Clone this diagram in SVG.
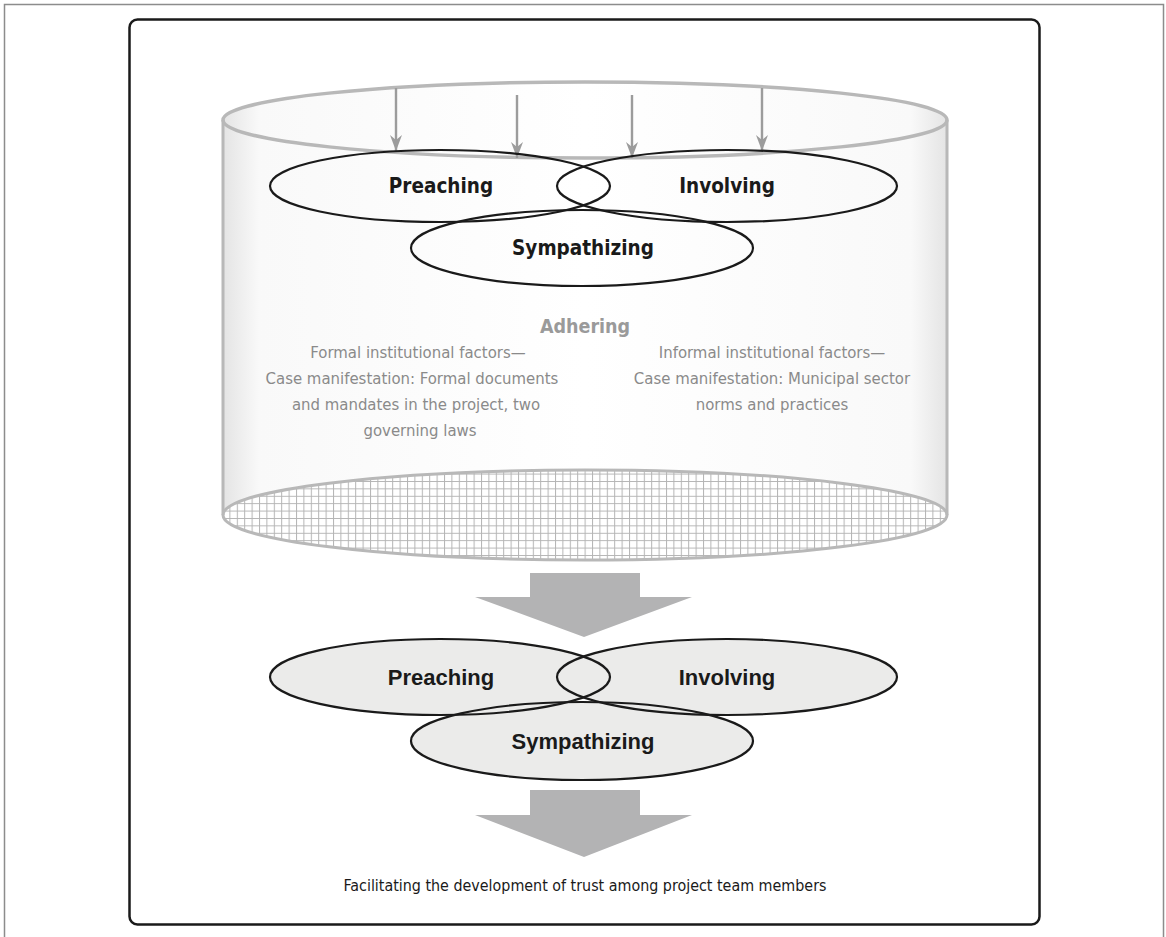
<svg xmlns="http://www.w3.org/2000/svg" width="1166" height="937" viewBox="0 0 1166 937">
  <style>
    .venn { fill: none; stroke: #1a1a1a; stroke-width: 2.2; }
    .vennfill { fill: #ebebea; stroke: none; }
    .lbl-top { font-family: "DejaVu Sans Condensed", "DejaVu Sans", sans-serif; font-stretch: condensed; font-weight: bold; font-size: 20.5px; fill: #1a1a1a; text-anchor: middle; dominant-baseline: central; }
    .lbl-bot { font-family: "Liberation Sans", Arial, sans-serif; font-weight: bold; font-size: 22px; fill: #1a1a1a; text-anchor: middle; dominant-baseline: central; }
    .note { font-family: "DejaVu Sans Condensed", "DejaVu Sans", sans-serif; font-stretch: condensed; font-size: 16.6px; fill: #8a8a8a; text-anchor: middle; }
    .title { font-family: "DejaVu Sans Condensed", "DejaVu Sans", sans-serif; font-stretch: condensed; font-size: 19.5px; fill: #9a9a9a; text-anchor: middle; font-weight: bold; }
    .foot { font-family: "DejaVu Sans Condensed", "DejaVu Sans", sans-serif; font-stretch: condensed; font-size: 15.9px; fill: #1a1a1a; text-anchor: middle; }
    .thin { stroke: #9c9c9c; stroke-width: 2.4; fill: none; }
    .block { fill: #b3b3b4; }
  </style>
  <defs>
    <linearGradient id="bodyShade" x1="0" y1="0" x2="1" y2="0">
      <stop offset="0" stop-color="#e4e4e4"/>
      <stop offset="0.05" stop-color="#f9f9f9"/>
      <stop offset="0.5" stop-color="#ffffff"/>
      <stop offset="0.95" stop-color="#f9f9f9"/>
      <stop offset="1" stop-color="#e4e4e4"/>
    </linearGradient>
    <pattern id="mesh" width="7.4" height="7.4" patternUnits="userSpaceOnUse" x="0" y="0">
      <rect width="7.4" height="7.4" fill="#ffffff"/>
      <path d="M0,0.5 H7.4 M0.5,0 V7.4" stroke="#b4b4b4" stroke-width="1"/>
    </pattern>
    <!-- notched head, drawn along +x so orient="auto" follows the line -->
    <marker id="tip" viewBox="0 0 16 12" refX="16" refY="6" markerWidth="16" markerHeight="12" markerUnits="userSpaceOnUse" orient="auto">
      <path d="M0,0 L16,6 L0,12 L5,6 Z" fill="#9c9c9c"/>
    </marker>
  </defs>

  <!-- page frame -->
  <path d="M4.5,937 V4.5 H1163.5 V937" fill="none" stroke="#8c8c8c" stroke-width="1.5"/>
  <rect x="129.5" y="19.5" width="910" height="905" rx="8" fill="#ffffff" stroke="#1a1a1a" stroke-width="2.5"/>

  <!-- cylinder -->
  <g id="cylinder">
    <path d="M223,120 V515 A362,45 0 0 0 947,515 V120 Z" fill="url(#bodyShade)"/>
    <ellipse cx="585" cy="120" rx="362" ry="38" fill="url(#bodyShade)"/>
    <ellipse cx="585" cy="515" rx="362" ry="45" fill="url(#mesh)" stroke="#b8b8b8" stroke-width="3"/>
    <path d="M223,120 V515 M947,120 V515" stroke="#b8b8b8" stroke-width="3" fill="none"/>
    <ellipse cx="585" cy="120" rx="362" ry="38" fill="none" stroke="#b8b8b8" stroke-width="3.5"/>
  </g>

  <!-- downward pressure arrows -->
  <g id="connectors">
    <line class="thin" x1="396" y1="88" x2="396" y2="151" marker-end="url(#tip)"/>
    <line class="thin" x1="517" y1="95" x2="517" y2="158" marker-end="url(#tip)"/>
    <line class="thin" x1="632" y1="95" x2="632" y2="158" marker-end="url(#tip)"/>
    <line class="thin" x1="762" y1="88" x2="762" y2="151" marker-end="url(#tip)"/>
    <polygon class="block" points="530,573 640,573 640,597 692,597 584,637 475,597 530,597"/>
    <polygon class="block" points="530,790 640,790 640,815 692,815 584,857 475,815 530,815"/>
  </g>

  <!-- upper trio -->
  <g id="top-preaching">
    <ellipse class="venn" cx="440" cy="186" rx="170" ry="36"/>
    <text class="lbl-top" x="441" y="186">Preaching</text>
  </g>
  <g id="top-involving">
    <ellipse class="venn" cx="727" cy="186" rx="170" ry="36"/>
    <text class="lbl-top" x="727" y="186">Involving</text>
  </g>
  <g id="top-sympathizing">
    <ellipse class="venn" cx="582" cy="248" rx="171" ry="38"/>
    <text class="lbl-top" x="583" y="248">Sympathizing</text>
  </g>

  <!-- institutional context -->
  <g id="adhering">
    <text class="title" x="585" y="333">Adhering</text>
    <text class="note" x="418" y="358">Formal institutional factors—</text>
    <text class="note" x="412" y="384">Case manifestation: Formal documents</text>
    <text class="note" x="416" y="410">and mandates in the project, two</text>
    <text class="note" x="420" y="436">governing laws</text>
    <text class="note" x="772" y="358">Informal institutional factors—</text>
    <text class="note" x="772" y="384">Case manifestation: Municipal sector</text>
    <text class="note" x="772" y="410">norms and practices</text>
  </g>

  <!-- lower trio -->
  <g id="bottom-fills">
    <ellipse class="vennfill" cx="440" cy="677" rx="170" ry="38"/>
    <ellipse class="vennfill" cx="727" cy="677" rx="170" ry="38"/>
    <ellipse class="vennfill" cx="582" cy="741" rx="171" ry="39"/>
  </g>
  <g id="bot-preaching">
    <ellipse class="venn" cx="440" cy="677" rx="170" ry="38"/>
    <text class="lbl-bot" x="441" y="677">Preaching</text>
  </g>
  <g id="bot-involving">
    <ellipse class="venn" cx="727" cy="677" rx="170" ry="38"/>
    <text class="lbl-bot" x="727" y="677">Involving</text>
  </g>
  <g id="bot-sympathizing">
    <ellipse class="venn" cx="582" cy="741" rx="171" ry="39"/>
    <text class="lbl-bot" x="583" y="741">Sympathizing</text>
  </g>

  <g id="outcome">
    <text class="foot" x="585" y="891">Facilitating the development of trust among project team members</text>
  </g>
</svg>
